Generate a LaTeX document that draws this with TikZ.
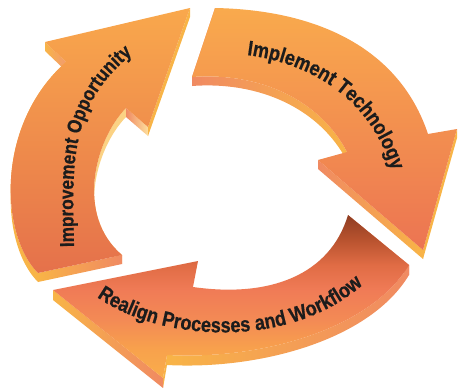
\documentclass[tikz,border=0pt]{standalone}
\usepackage{fontspec}
\newfontfamily\arrowfont{Liberation Sans}[FakeStretch=0.86, BoldFeatures={FakeBold=0.6}]
\usetikzlibrary{decorations.text}
\definecolor{txt}{HTML}{1C1C1C}
\definecolor{sideyel}{HTML}{F8B447}
\definecolor{lightside}{HTML}{FDDF9E}
\definecolor{coralside}{HTML}{F08A62}
\definecolor{LA}{HTML}{F9A84C}
\definecolor{LB}{HTML}{F38B52}
\definecolor{LC}{HTML}{E5714B}
\definecolor{RA}{HTML}{F9AA4D}
\definecolor{RB}{HTML}{F48E54}
\definecolor{RC}{HTML}{EC7452}
\definecolor{BA}{HTML}{8F3D22}
\definecolor{Bb}{HTML}{B9532F}
\definecolor{Bc}{HTML}{E06C45}
\definecolor{BB}{HTML}{F07B56}
\definecolor{Bd}{HTML}{F38A55}
\definecolor{Be}{HTML}{F8A24C}
\definecolor{BC}{HTML}{F9AD4B}
\pgfdeclareverticalshading{bshade}{100bp}{color(0bp)=(BC); color(25bp)=(BC); color(33.6bp)=(Be); color(42.8bp)=(Bd); color(52bp)=(BB); color(59.7bp)=(Bc); color(67.3bp)=(Bb); color(75bp)=(BA); color(100bp)=(BA)}
\newcommand\lblfont{\arrowfont\bfseries\fontsize{21}{22}\selectfont\color{txt}}
\newcommand\lblfontsm{\arrowfont\bfseries\fontsize{20}{21}\selectfont\color{txt}}
\tikzset{
  sideflat/.style={fill=sideyel},
  sidecoral/.style={fill=coralside},
  sidelight/.style={fill=lightside!70!sideyel},
  sideLR/.style={left color=sideyel, middle color=lightside, right color=coralside},
  sideRL/.style={left color=coralside, middle color=lightside, right color=sideyel},
  facel/.style={top color=LA, middle color=LB, bottom color=LC},
  facer/.style={top color=RA, middle color=RB, bottom color=RC},
  faceb/.style={shading=bshade},
  lbl/.style={decorate, decoration={text along path, text align=left, text={#1}}}
}
\begin{document}
\begin{tikzpicture}[x=1pt,y=1pt]
\useasboundingbox (0,0) rectangle (459,-388);

% ---------- left arrow: Improvement Opportunity ----------
\shade[left color=sideyel, right color=coralside!80!lightside] (66,-62) -- (45,-42) -- (45,-51) -- (66,-71) -- cycle;
\fill[sideflat] (38,-273) .. controls (0,-235) and (-5,-125) .. (66,-62) -- (66,-71) .. controls (-5,-134) and (0,-244) .. (38,-282) -- cycle;
\fill[sidelight] (126,-108) .. controls (95,-140) and (75,-215) .. (122,-255) -- (122,-264) .. controls (75,-224) and (95,-149) .. (126,-117) -- cycle;
\shade[left color=coralside, right color=lightside] (148,-127) -- (126,-108) -- (126,-117) -- (148,-136) -- cycle;
\fill[sideflat] (190,-8) -- (148,-127) -- (148,-136) -- (190,-17) -- cycle;
\shade[sideLR] (38,-273) -- (122,-255) -- (122,-264) -- (38,-282) -- cycle;
\shade[facel] (38,-273) .. controls (0,-235) and (-5,-125) .. (66,-62) -- (45,-42) -- (190,-8) -- (148,-127) -- (126,-108) .. controls (95,-140) and (75,-215) .. (122,-255) -- cycle;

% ---------- right arrow: Implement Technology ----------
\fill[sidecoral] (215,-8) -- (192,-77) -- (192,-86) -- (215,-17) -- cycle;
\shade[sideRL] (192,-77) .. controls (260,-72) and (320,-100) .. (347,-152) -- (347,-161) .. controls (320,-109) and (260,-81) .. (192,-86) -- cycle;
\shade[sideRL] (318,-160) -- (423,-250) -- (423,-259) -- (318,-169) -- cycle;
\fill[sideflat] (457,-129) -- (423,-250) -- (423,-259) -- (457,-138) -- cycle;
\shade[facer] (215,-8) .. controls (320,-10) and (400,-50) .. (428,-134) -- (457,-129) -- (423,-250) -- (318,-160) -- (347,-152) .. controls (320,-100) and (260,-72) .. (192,-77) -- cycle;

% ---------- bottom arrow: Realign Processes and Workflow ----------
\fill[sidecoral] (348,-215) -- (409,-265) -- (409,-275) -- (348,-225) -- cycle;
\shade[sideLR] (409,-265) .. controls (370,-330) and (260,-360) .. (167,-355) -- (167,-365) .. controls (260,-370) and (370,-340) .. (409,-275) -- cycle;
\fill[sideflat] (167,-355) -- (163,-378) -- (163,-388) -- (167,-365) -- cycle;
\shade[sideLR] (163,-378) -- (53,-290) -- (53,-300) -- (163,-388) -- cycle;
\shade[faceb] (348,-215) -- (409,-265) .. controls (370,-330) and (260,-360) .. (167,-355) -- (163,-378) -- (53,-290) -- (198,-261) -- (193,-287) .. controls (270,-298) and (330,-275) .. (348,-215) -- cycle;

% ---------- labels ----------
\path[lbl={|\lblfontsm|Improvement Opportunity}] (74,-247) .. controls (73,-170) and (66,-105) .. (135,-52) -- (175,-22);
\path[lbl={|\lblfont|Implement Technology}] (247,-55) .. controls (300,-62) and (365,-90) .. (390,-165) -- (400,-195);
\path[lbl={|\lblfont|Realign Processes and Workflow}] (97,-297) .. controls (165,-345) and (300,-350) .. (372,-276) -- (400,-247);
\end{tikzpicture}
\end{document}
